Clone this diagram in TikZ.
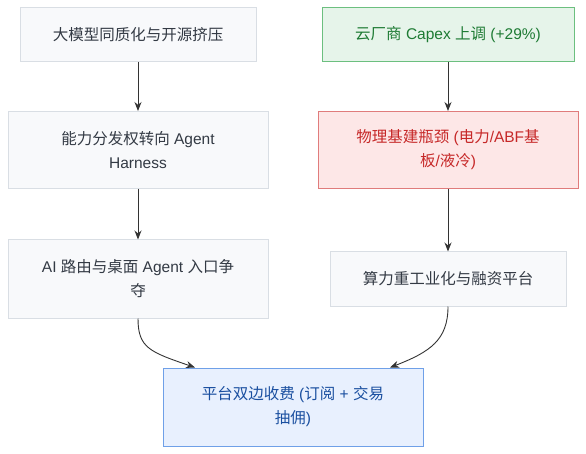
\documentclass[tikz,border=0pt]{standalone}
\usepackage{fontspec}
\setmainfont{Liberation Sans}
\newfontfamily\zhfont{Noto Sans CJK SC}
\newcommand{\zh}[1]{{\zhfont #1}}
\usetikzlibrary{arrows.meta}
\definecolor{plainfill}{HTML}{F8F9FB}
\definecolor{plainline}{HTML}{D9DEE4}
\definecolor{plaintext}{HTML}{333A44}
\definecolor{greenfill}{HTML}{E6F4EA}
\definecolor{greenline}{HTML}{6CBF7F}
\definecolor{greentext}{HTML}{1E7B34}
\definecolor{redfill}{HTML}{FDE7E7}
\definecolor{redline}{HTML}{E07C7C}
\definecolor{redtext}{HTML}{C62828}
\definecolor{bluefill}{HTML}{E8F0FE}
\definecolor{blueline}{HTML}{6FA0E8}
\definecolor{bluetext}{HTML}{1A4FA0}
\begin{document}
\begin{tikzpicture}[x=1pt,y=-1pt,
    box/.style={draw=plainline,fill=plainfill,text=plaintext,line width=1pt,
      align=center,inner sep=0pt,font=\fontsize{15.5}{24}\selectfont},
    greenbox/.style={box,draw=greenline,fill=greenfill,text=greentext},
    redbox/.style={box,draw=redline,fill=redfill,text=redtext},
    bluebox/.style={box,draw=blueline,fill=bluefill,text=bluetext},
    link/.style={draw=black!80,line width=0.9pt,-{Stealth[length=9pt,width=7pt]}}]
  \useasboundingbox (0,0) rectangle (586,454);
  % left column
  \node[box,minimum width=236pt,minimum height=54pt] (homog) at (138,35)
    {\zh{大模型同质化与开源挤压}};
  \node[box,minimum width=260pt,minimum height=77pt] (harness) at (138,150)
    {\zh{能力分发权转向} Agent\\Harness};
  \node[box,minimum width=260pt,minimum height=78pt] (entry) at (138,279)
    {AI \zh{路由与桌面} Agent \zh{入口争}\\\zh{夺}};
  % right column
  \node[greenbox,minimum width=252pt,minimum height=54pt] (capex) at (448,35)
    {\zh{云厂商} Capex \zh{上调} (+29\%)};
  \node[redbox,minimum width=260pt,minimum height=77pt] (infra) at (448,150)
    {\zh{物理基建瓶颈} (\zh{电力}/ABF\zh{基}\\\zh{板}/\zh{液冷})};
  \node[box,minimum width=236pt,minimum height=54pt] (heavy) at (448,279)
    {\zh{算力重工业化与融资平台}};
  % bottom
  \node[bluebox,minimum width=260pt,minimum height=78pt] (fees) at (293,407)
    {\zh{平台双边收费} (\zh{订阅} + \zh{交易}\\\zh{抽佣})};
  \coordinate (feesl) at ([xshift=-98pt]fees.north);
  \coordinate (feesr) at ([xshift=97pt]fees.north);
  \draw[link] (homog) -- (harness);
  \draw[link] (harness) -- (entry);
  \draw[link] (capex) -- (infra);
  \draw[link] (infra) -- (heavy);
  \draw[link] (entry.south) .. controls (138,348) and (150,352) .. (feesl);
  \draw[link] (heavy.south) .. controls (448,340) and (430,352) .. (feesr);
\end{tikzpicture}
\end{document}
